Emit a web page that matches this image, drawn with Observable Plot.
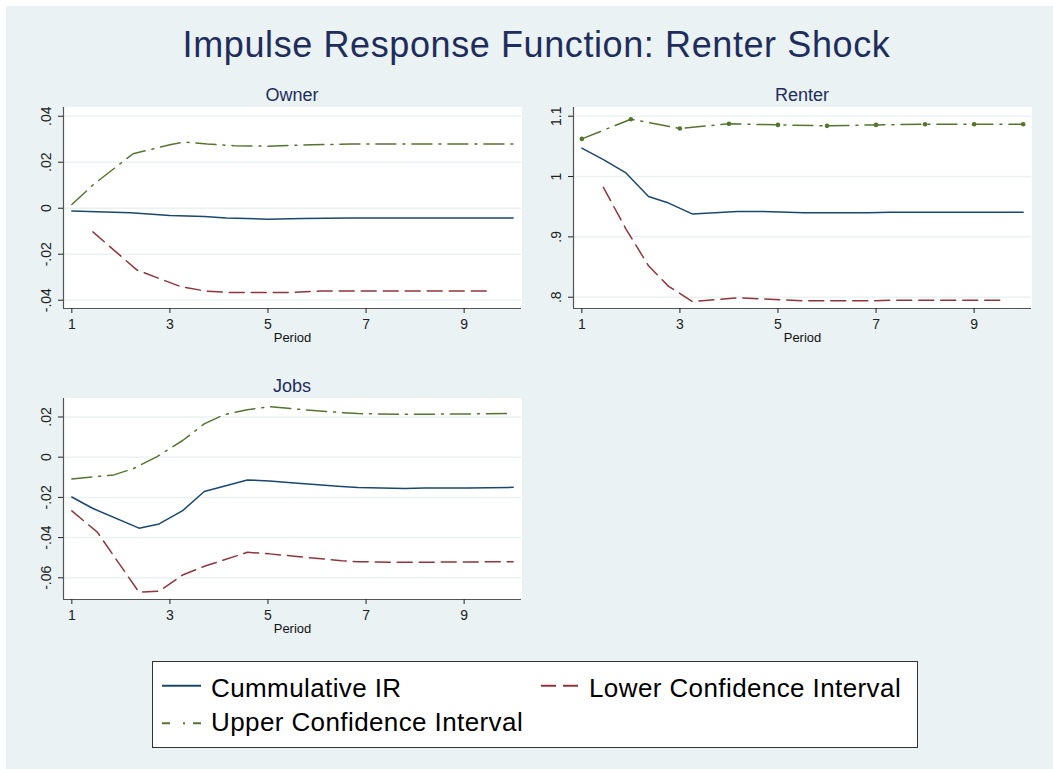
<!DOCTYPE html>
<html><head><meta charset="utf-8">
<script src="https://cdn.jsdelivr.net/npm/d3@7"></script>
<script src="https://cdn.jsdelivr.net/npm/@observablehq/plot@0.6"></script>
<style>
html,body{margin:0;padding:0;background:#fff;}
body{width:1053px;height:769px;position:relative;overflow:hidden;font-family:"Liberation Sans",Arial,sans-serif;}
#bg{position:absolute;left:6px;top:6px;width:1047px;height:763px;background:#eaf2f3;}
.abs{position:absolute;}
#title{left:0;width:1073px;top:27px;text-align:center;font-size:36px;line-height:36px;letter-spacing:0.6px;color:#1e2d5c;white-space:nowrap;}
.ptitle{width:458px;text-align:center;font-size:18px;line-height:18px;color:#1e2d5c;white-space:nowrap;}
#legend{left:152px;top:661px;width:766px;height:87px;box-sizing:border-box;border:1px solid #333;background:#fff;}
.ltext{position:absolute;font-size:26px;line-height:26px;letter-spacing:0.4px;color:#000;white-space:nowrap;}
.lsvg{position:absolute;left:0;top:0;overflow:visible;}
</style></head><body>
<div id="bg"></div>
<div id="title" class="abs">Impulse Response Function: Renter Shock</div>
<div class="abs ptitle" style="left:63px;top:86px;">Owner</div>
<div class="abs ptitle" style="left:573px;top:86px;">Renter</div>
<div class="abs ptitle" style="left:63px;top:377px;">Jobs</div>
<div id="p1" class="abs" style="left:20px;top:100px;"></div>
<div id="p2" class="abs" style="left:530px;top:100px;"></div>
<div id="p3" class="abs" style="left:20px;top:391px;"></div>
<div id="legend" class="abs">
  <svg class="lsvg" width="764" height="85">
    <line x1="9" x2="48" y1="23.7" y2="23.7" stroke="#1a476f" stroke-width="2"/>
    <line x1="388" x2="425" y1="23.7" y2="23.7" stroke="#90353b" stroke-width="2" stroke-dasharray="15,7"/>
    <line x1="9" x2="48" y1="61.3" y2="61.3" stroke="#55752f" stroke-width="2" stroke-dasharray="8,13,2,8,8,0"/>
  </svg>
  <div class="ltext" style="left:58px;top:13px;">Cummulative IR</div>
  <div class="ltext" style="left:436px;top:13px;">Lower Confidence Interval</div>
  <div class="ltext" style="left:58px;top:47px;">Upper Confidence Interval</div>
</div>
<script>
// ---- Data ----
const xTicks = [1, 3, 5, 7, 9];
const xTickLabels = ["1", "3", "5", "7", "9"];

// Owner
const ownerIrX = [1, 2.2, 3, 3.7, 4.15, 5, 5.7, 6.7, 10];
const ownerIr  = [-0.0012, -0.002, -0.0032, -0.0036, -0.0042, -0.0048, -0.0045, -0.0042, -0.0042];
const ownerUpX = [1, 1.45, 2.25, 3, 3.28, 3.76, 4.3, 5, 5.9, 6.7, 10];
const ownerUp  = [0.0016, 0.0105, 0.0237, 0.0276, 0.0288, 0.0279, 0.0272, 0.027, 0.0276, 0.0279, 0.0279];
const ownerLoX = [1.43, 2.33, 3.21, 3.72, 4.17, 5, 5.53, 6.07, 9.54];
const ownerLo  = [-0.0103, -0.0269, -0.034, -0.036, -0.0366, -0.0366, -0.0366, -0.036, -0.036];
const ownerYTicks = [0.04, 0.02, 0, -0.02, -0.04];
const ownerYTickLabels = [".04", ".02", "0", "-.02", "-.04"];

// Renter
const renterIrX = [1, 1.44, 1.9, 2.36, 2.77, 3.25, 4.17, 4.7, 5.53, 6.82, 7.3, 10];
const renterIr  = [1.047, 1.028, 1.006, 0.967, 0.956, 0.938, 0.942, 0.942, 0.940, 0.940, 0.941, 0.941];
const renterUpX = [1, 2, 3, 4, 5, 6, 7, 8, 9, 10];
const renterUp  = [1.0624, 1.095, 1.0796, 1.0873, 1.0856, 1.084, 1.0856, 1.0867, 1.0867, 1.0867];
const renterLoX = [1.44, 1.9, 2.36, 2.77, 3.25, 4.17, 4.7, 5.53, 6.8, 7.3, 9.54];
const renterLo  = [0.982, 0.913, 0.852, 0.818, 0.793, 0.799, 0.797, 0.794, 0.794, 0.795, 0.795];
const renterYTicks = [1.1, 1, 0.9, 0.8];
const renterYTickLabels = ["1.1", "1", ".9", ".8"];

// Jobs
const jobsIrX = [1, 1.42, 2.37, 2.78, 3.26, 3.7, 4.58, 5.03, 5.54, 6.5, 6.84, 7.79, 8.2, 9.08, 10];
const jobsIr  = [-0.0198, -0.0254, -0.0353, -0.0332, -0.0266, -0.0171, -0.0113, -0.0118, -0.0128, -0.0146, -0.0151, -0.0156, -0.0153, -0.0153, -0.015];
const jobsUpX = [1, 1.86, 2.27, 2.74, 3.26, 3.7, 4.1, 4.58, 5.03, 5.54, 6.5, 6.84, 7.79, 10];
const jobsUp  = [-0.0108, -0.0088, -0.0055, 0.0003, 0.0083, 0.0166, 0.0211, 0.0236, 0.0251, 0.024, 0.0222, 0.0217, 0.0213, 0.0217];
const jobsLoX = [1, 1.52, 2.37, 2.78, 3.26, 3.7, 4.58, 5.03, 5.54, 6.5, 6.84, 7.79, 10];
const jobsLo  = [-0.0267, -0.0373, -0.0672, -0.0667, -0.0586, -0.0543, -0.0473, -0.0481, -0.0493, -0.0515, -0.052, -0.0523, -0.052];
const jobsYTicks = [0.02, 0, -0.02, -0.04, -0.06];
const jobsYTickLabels = [".02", "0", "-.02", "-.04", "-.06"];

// ---- Styling ----
const NAVY = "#1a476f", MAROON = "#90353b", GREEN = "#55752f";
const GRID = "#eaf2f3", AXIS = "#555";
const xDomain = [0.83, 10.17];

function pts(xs, ys) { return xs.map((x, i) => ({x, y: ys[i]})); }

function panel({ir, up, lo, yDomain, yTicks, yTickLabels, upDots}) {
  const marks = [
    Plot.frame({fill: "white", stroke: "white"}),
    Plot.ruleY(yTicks, {stroke: GRID, strokeWidth: 1.5}),
    Plot.line(pts(...up), {x: "x", y: "y", stroke: GREEN, strokeWidth: 1.5, strokeDasharray: "20,7,2,7"}),
    Plot.line(pts(...lo), {x: "x", y: "y", stroke: MAROON, strokeWidth: 1.5, strokeDasharray: "15,7"}),
    Plot.line(pts(...ir), {x: "x", y: "y", stroke: NAVY, strokeWidth: 1.5}),
  ];
  if (upDots) marks.push(Plot.dot(pts(...up), {x: "x", y: "y", r: 2.3, fill: GREEN, stroke: "none"}));
  marks.push(
    Plot.ruleX([xDomain[0]], {stroke: AXIS, strokeWidth: 1.2}),
    Plot.ruleY([yDomain[0]], {stroke: AXIS, strokeWidth: 1.2}),
    Plot.axisX(xTicks, {tickSize: 5, tickPadding: 6, fontSize: 14, label: null,
      tickFormat: d => xTickLabels[xTicks.indexOf(d)]}),
    Plot.axisY(yTicks, {tickSize: 5, tickPadding: 8, tickRotate: -90, textAnchor: "middle", fontSize: 14, label: null,
      tickFormat: d => yTickLabels[yTicks.indexOf(d)]}),
    Plot.text(["Period"], {frameAnchor: "bottom", lineAnchor: "top", dy: 24, text: d => d, fontSize: 13, fill: "#111"})
  );
  return Plot.plot({
    width: 510, height: 250,
    marginLeft: 43, marginRight: 9, marginTop: 7, marginBottom: 42,
    x: {domain: xDomain},
    y: {domain: yDomain},
    style: {background: "transparent", fontFamily: "'Liberation Sans', Arial, sans-serif", fontSize: "14px", color: "#222", overflow: "visible"},
    marks
  });
}

document.getElementById("p1").appendChild(panel({
  ir: [ownerIrX, ownerIr], up: [ownerUpX, ownerUp], lo: [ownerLoX, ownerLo],
  yDomain: [-0.0436, 0.0438], yTicks: ownerYTicks, yTickLabels: ownerYTickLabels
}));
document.getElementById("p2").appendChild(panel({
  ir: [renterIrX, renterIr], up: [renterUpX, renterUp], lo: [renterLoX, renterLo],
  yDomain: [0.7813, 1.1144], yTicks: renterYTicks, yTickLabels: renterYTickLabels, upDots: true
}));
document.getElementById("p3").appendChild(panel({
  ir: [jobsIrX, jobsIr], up: [jobsUpX, jobsUp], lo: [jobsLoX, jobsLo],
  yDomain: [-0.0708, 0.0292], yTicks: jobsYTicks, yTickLabels: jobsYTickLabels
}));
</script>
</body></html>
